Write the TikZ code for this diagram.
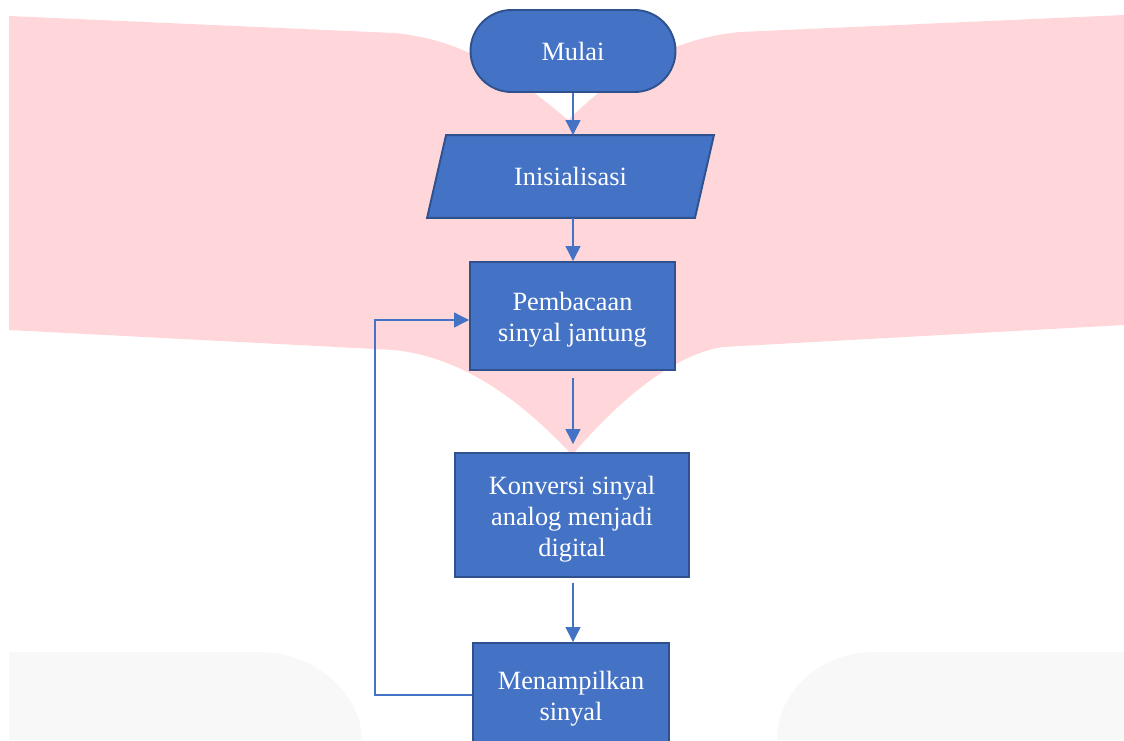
\documentclass[tikz,border=0pt]{standalone}
\usepackage{fontspec}
\setmainfont{Liberation Serif}
\usetikzlibrary{arrows.meta,backgrounds}
\definecolor{boxblue}{HTML}{4472C4}
\definecolor{boxedge}{HTML}{2F528F}
\definecolor{markpink}{HTML}{FFD7DA}
\definecolor{markgray}{HTML}{F8F8F8}
\newcommand{\topline}{\rule{0pt}{15pt}}
\tikzset{
  flowbox/.style={draw=boxedge, line width=1.1pt, fill=boxblue, text=white,
    align=center, inner sep=0pt, font=\fontsize{15}{17.6}\selectfont},
  flowline/.style={draw=boxblue, line width=0.7pt,
    -{Triangle[width=0.3cm,length=0.3cm]}},
}
\begin{document}
\begin{tikzpicture}[x=0.02cm, y=-0.02cm]
  \useasboundingbox (0,0) rectangle (1124,740);
  \clip (0,0) rectangle (1124,740);

  % watermark behind the chart
  \begin{scope}[on background layer]
    \fill[markpink] (9,16) -- (394,33) .. controls (470,40) and (520,80) .. (568,120)
      .. controls (610,80) and (660,40) .. (740,32) -- (1124,15) -- (1124,325)
      -- (723,347) .. controls (670,355) and (615,405) .. (572,455)
      .. controls (530,410) and (470,358) .. (394,350) -- (9,330) -- cycle;
    \fill[markgray] (9,652) -- (258,652) .. controls (322,652) and (362,700) .. (362,740) -- (9,740) -- cycle;
    \fill[markgray] (777,740) .. controls (777,692) and (820,652) .. (874,652) -- (1124,652) -- (1124,740) -- cycle;
  \end{scope}

  % the flow chart
  \node[flowbox, minimum width=4.1cm, minimum height=1.64cm, rounded corners=0.82cm] (mulai) at (573,51) {Mulai};
  \node[flowbox, draw=none, fill=none, minimum width=5.32cm, minimum height=1.62cm] (init) at (570.5,176.5) {Inisialisasi};
  \node[flowbox, minimum width=4.1cm, minimum height=2.16cm] (baca) at (572.5,316) {\topline Pembacaan\\sinyal jantung};
  \node[flowbox, minimum width=4.68cm, minimum height=2.48cm] (konversi) at (572,515) {\topline Konversi sinyal\\analog menjadi\\digital};
  \node[flowbox, minimum width=3.92cm, minimum height=2.08cm] (tampil) at (571,695) {\topline Menampilkan\\sinyal};
  \coordinate (balik) at (375,0);

  % input box drawn under its text
  \begin{scope}[on background layer]
    \filldraw[draw=boxedge, line width=1.1pt, fill=boxblue]
      ([xshift=0.19cm]init.north west) -- ([xshift=0.19cm]init.north east)
      -- ([xshift=-0.19cm]init.south east) -- ([xshift=-0.19cm]init.south west) -- cycle;
  \end{scope}

  \draw[flowline] (mulai.south) -- (mulai.south |- init.north);
  \draw[flowline] (mulai.south |- init.south) -- (mulai.south |- baca.north);
  \draw[flowline, shorten <=0.14cm, shorten >=0.16cm] (mulai.south |- baca.south) -- (mulai.south |- konversi.north);
  \draw[flowline, shorten <=0.1cm] (mulai.south |- konversi.south) -- (mulai.south |- tampil.north);
  \draw[flowline, line width=0.6pt] (tampil.west) -- (tampil.west -| balik) |- ([yshift=-0.08cm]baca.west);
\end{tikzpicture}
\end{document}
